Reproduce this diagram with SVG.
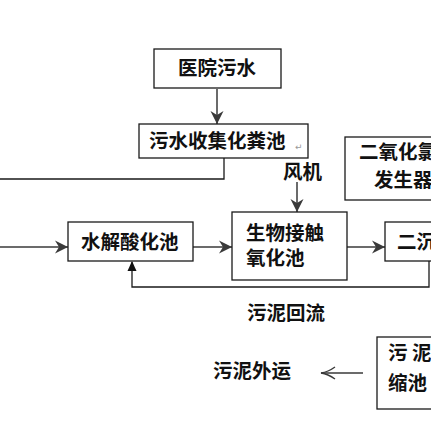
<svg xmlns="http://www.w3.org/2000/svg" width="431" height="431" viewBox="0 0 431 431">
<style>
.box{fill:#fff;stroke:#1a1a1a;stroke-width:1.3}
.t{font-family:"Noto Sans CJK SC","Noto Sans CJK JP",sans-serif;font-size:19.5px;font-weight:bold;fill:#111}
.c{fill:none;stroke:#3a3a3a;stroke-width:1.5}
.k{fill:none;stroke:#1a1a1a;stroke-width:1.3}
</style>
<defs>
<marker id="ah" markerUnits="userSpaceOnUse" markerWidth="14" markerHeight="14" refX="13" refY="7" orient="auto">
<path d="M0,0.5 L13,7 L0,13.5 L4,7 z" fill="#3a3a3a"/>
</marker>
<marker id="sm" markerUnits="userSpaceOnUse" markerWidth="10" markerHeight="12" refX="9" refY="5" orient="auto">
<path d="M0,0.5 L10,5 L0,9.5 z" fill="#111"/>
</marker>
<marker id="op" markerUnits="userSpaceOnUse" markerWidth="16" markerHeight="14" refX="15" refY="7" orient="auto">
<path d="M1,1 Q8,6 15,7 Q8,8 1,13" fill="none" stroke="#3a3a3a" stroke-width="1.4"/>
</marker>
</defs>
<rect width="431" height="431" fill="#fff"/>
<g id="connectors">
<line class="c" x1="217" y1="89" x2="217" y2="124" marker-end="url(#ah)"/>
<polyline class="k" points="224,158 224,179 0,179"/>
<line class="c" x1="0" y1="247" x2="68" y2="247" marker-end="url(#ah)"/>
<line class="c" x1="297" y1="182" x2="297" y2="212" marker-end="url(#ah)"/>
<line class="c" x1="193" y1="247" x2="232" y2="247" marker-end="url(#ah)"/>
<line class="c" x1="347" y1="247" x2="385" y2="247" marker-end="url(#ah)"/>
<polyline class="k" points="429,261 429,287 132,287 132,262" marker-end="url(#sm)"/>
<line x1="363" y1="373" x2="321" y2="373" stroke="#3a3a3a" stroke-width="1.4" marker-end="url(#op)"/>
</g>
<g id="n1"><rect class="box" x="154" y="49" width="127" height="39"/><text class="t" x="217" y="75" text-anchor="middle">医院污水</text></g>
<g id="n2"><rect class="box" x="139" y="124" width="169" height="34"/><text class="t" x="149" y="148">污水收集化粪池</text><text x="295" y="150" font-family="DejaVu Sans,sans-serif" font-size="9" fill="#999">↵</text></g>
<g id="n3"><rect class="box" x="345" y="137" width="100" height="63"/><text class="t" x="359" y="159">二氧化氯</text><text class="t" x="374" y="187">发生器</text></g>
<g id="n4"><text class="t" x="283" y="179">风机</text></g>
<g id="n5"><rect class="box" x="68" y="222" width="125" height="39"/><text class="t" x="81" y="249">水解酸化池</text></g>
<g id="n6"><rect class="box" x="232" y="212" width="115" height="68"/><text class="t" x="246" y="240">生物接触</text><text class="t" x="246" y="265">氧化池</text></g>
<g id="n7"><rect class="box" x="385" y="222" width="60" height="39"/><text class="t" x="397" y="249">二沉池</text></g>
<g id="n8"><text class="t" x="247" y="320">污泥回流</text></g>
<g id="n9"><rect class="box" x="377" y="337" width="70" height="72"/><text class="t" x="388" y="360" xml:space="preserve">污 泥浓</text><text class="t" x="388" y="390">缩池</text></g>
<g id="n10"><text class="t" x="213" y="378">污泥外运</text></g>
</svg>
